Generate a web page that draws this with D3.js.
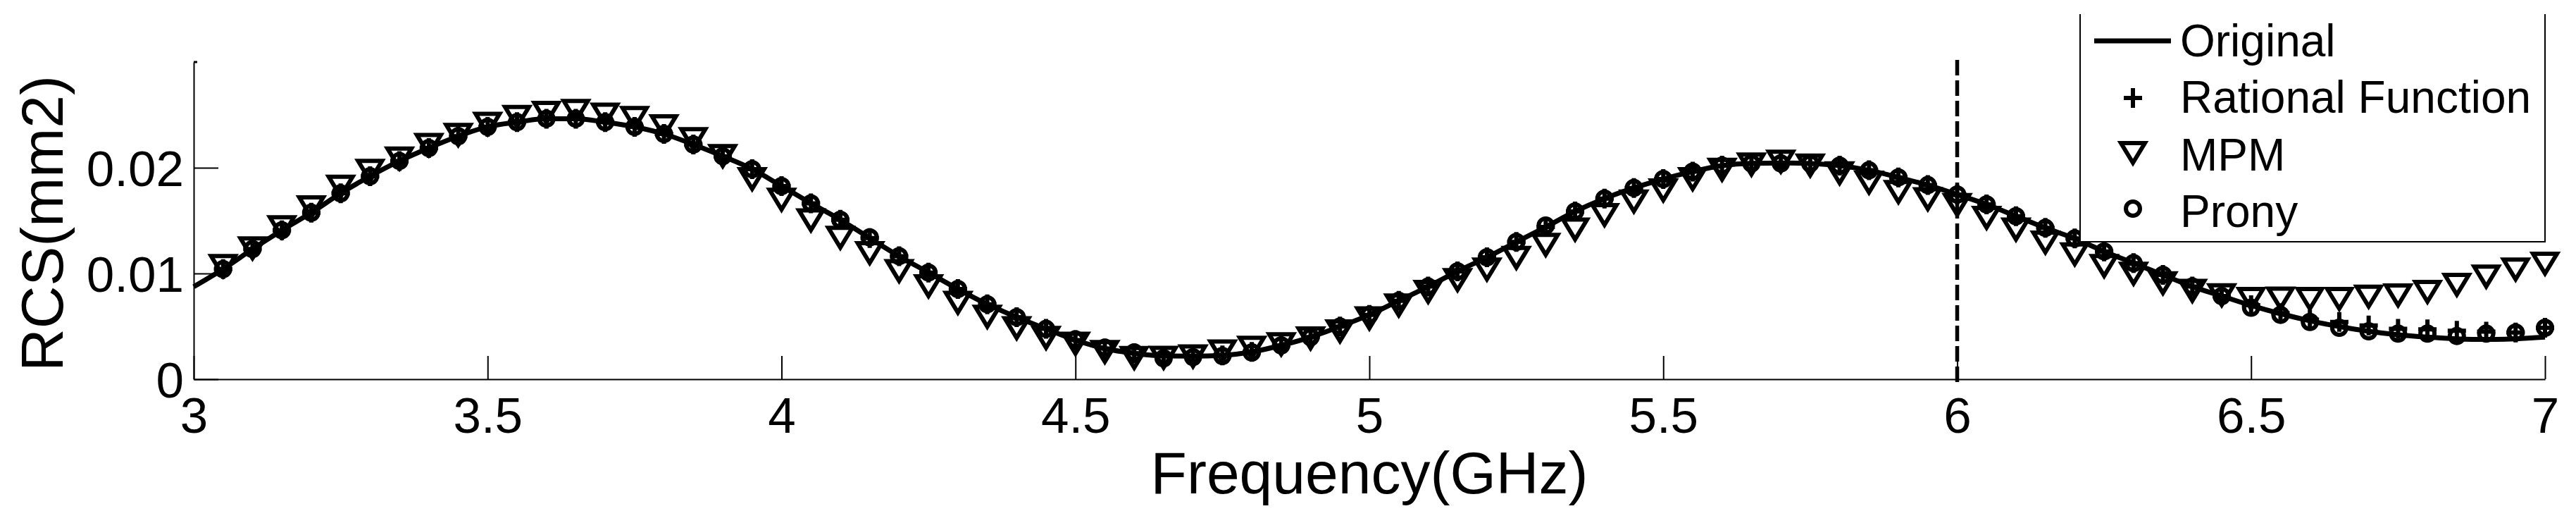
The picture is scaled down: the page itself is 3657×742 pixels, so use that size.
<!DOCTYPE html>
<html>
<head>
<meta charset="utf-8">
<script src="https://cdn.jsdelivr.net/npm/d3@7/dist/d3.min.js"></script>
<style>
  html, body { margin: 0; padding: 0; background: #fff; }
  svg { display: block; font-family: Arial, "Liberation Sans", sans-serif; }
</style>
</head>
<body>
<svg id="chart" width="3657" height="742"></svg>
<script>
// ---------------- data ----------------
const freq = [3.00,3.05,3.10,3.15,3.20,3.25,3.30,3.35,3.40,3.45,
  3.50,3.55,3.60,3.65,3.70,3.75,3.80,3.85,3.90,3.95,
  4.00,4.05,4.10,4.15,4.20,4.25,4.30,4.35,4.40,4.45,
  4.50,4.55,4.60,4.65,4.70,4.75,4.80,4.85,4.90,4.95,
  5.00,5.05,5.10,5.15,5.20,5.25,5.30,5.35,5.40,5.45,
  5.50,5.55,5.60,5.65,5.70,5.75,5.80,5.85,5.90,5.95,
  6.00,6.05,6.10,6.15,6.20,6.25,6.30,6.35,6.40,6.45,
  6.50,6.55,6.60,6.65,6.70,6.75,6.80,6.85,6.90,6.95,
  7.00];

const original = [0.00875,0.01042,0.01231,0.01409,0.01575,0.01758,0.01920,0.02064,0.02187,0.02298,
  0.02387,0.02431,0.02464,0.02464,0.02431,0.02387,0.02320,0.02220,0.02109,0.01987,
  0.01827,0.01664,0.01509,0.01335,0.01164,0.01009,0.00853,0.00709,0.00587,0.00476,
  0.00370,0.00290,0.00245,0.00220,0.00218,0.00225,0.00258,0.00320,0.00398,0.00498,
  0.00609,0.00742,0.00876,0.01020,0.01153,0.01298,0.01440,0.01587,0.01709,0.01809,
  0.01893,0.01964,0.02020,0.02042,0.02045,0.02040,0.02020,0.01976,0.01909,0.01836,
  0.01747,0.01653,0.01542,0.01431,0.01331,0.01209,0.01098,0.00987,0.00876,0.00787,
  0.00698,0.00620,0.00553,0.00498,0.00453,0.00420,0.00398,0.00382,0.00376,0.00382,
  0.00398];

// marker series sampled at 3.05 ... 7.00
const markerFreq = freq.slice(1);

const rationalFunction = [0.01042,0.01231,0.01409,0.01575,0.01758,0.01920,0.02064,0.02187,0.02298,0.02387,
  0.02431,0.02464,0.02464,0.02431,0.02387,0.02320,0.02220,0.02109,0.01987,0.01827,
  0.01664,0.01509,0.01335,0.01164,0.01009,0.00853,0.00709,0.00587,0.00476,0.00370,
  0.00290,0.00245,0.00220,0.00218,0.00225,0.00258,0.00320,0.00398,0.00498,0.00609,
  0.00742,0.00876,0.01020,0.01153,0.01298,0.01440,0.01587,0.01709,0.01809,0.01893,
  0.01964,0.02020,0.02042,0.02045,0.02040,0.02020,0.01976,0.01909,0.01836,0.01747,
  0.01653,0.01542,0.01431,0.01331,0.01209,0.01098,0.00987,0.00876,0.00787,0.00700,
  0.00625,0.00564,0.00542,0.00509,0.00476,0.00471,0.00458,0.00450,0.00442,0.00487];

const mpm = [0.01071,0.01238,0.01438,0.01627,0.01822,0.01971,0.02089,0.02216,0.02311,0.02416,
  0.02482,0.02520,0.02538,0.02504,0.02471,0.02393,0.02271,0.02111,0.01893,0.01698,
  0.01504,0.01338,0.01193,0.01024,0.00880,0.00724,0.00591,0.00484,0.00391,0.00336,
  0.00258,0.00202,0.00204,0.00216,0.00264,0.00298,0.00331,0.00387,0.00453,0.00576,
  0.00698,0.00827,0.00938,0.01038,0.01149,0.01271,0.01416,0.01553,0.01682,0.01787,
  0.01893,0.01982,0.02031,0.02058,0.02022,0.01949,0.01860,0.01771,0.01704,0.01649,
  0.01527,0.01416,0.01293,0.01182,0.01071,0.00998,0.00909,0.00836,0.00795,0.00760,
  0.00764,0.00760,0.00760,0.00782,0.00793,0.00827,0.00893,0.00971,0.01038,0.01093];

const prony = [0.01042,0.01231,0.01409,0.01575,0.01758,0.01920,0.02064,0.02187,0.02298,0.02387,
  0.02431,0.02464,0.02464,0.02431,0.02387,0.02320,0.02220,0.02109,0.01987,0.01827,
  0.01664,0.01509,0.01342,0.01164,0.01009,0.00853,0.00709,0.00587,0.00476,0.00376,
  0.00298,0.00253,0.00198,0.00209,0.00220,0.00253,0.00320,0.00398,0.00498,0.00609,
  0.00742,0.00876,0.01020,0.01153,0.01298,0.01453,0.01587,0.01709,0.01809,0.01893,
  0.01964,0.02020,0.02042,0.02042,0.02042,0.02020,0.01976,0.01909,0.01836,0.01747,
  0.01653,0.01542,0.01431,0.01331,0.01209,0.01098,0.00987,0.00876,0.00787,0.00676,
  0.00609,0.00542,0.00487,0.00453,0.00431,0.00431,0.00409,0.00431,0.00442,0.00487];

const xTicks = [3, 3.5, 4, 4.5, 5, 5.5, 6, 6.5, 7];
const xTickLabels = ["3", "3.5", "4", "4.5", "5", "5.5", "6", "6.5", "7"];
const yTicks = [0, 0.01, 0.02];
const yTickLabels = ["0", "0.01", "0.02"];
const cutoffFreq = 6;
const legendLabels = ["Original", "Rational Function", "MPM", "Prony"];
const xTitle = "Frequency(GHz)";
const yTitle = "RCS(mm2)";

// ---------------- layout ----------------
const svg = d3.select("#chart");
const x = d3.scaleLinear().domain([3, 7]).range([275, 3613]);
const y = d3.scaleLinear().domain([0, 0.03]).range([538, 88]);
const font = "Arial, 'Liberation Sans', sans-serif";

svg.append("rect").attr("width", 3657).attr("height", 742).attr("fill", "#fff");

// axes
const xAxis = d3.axisBottom(x).tickValues(xTicks)
  .tickFormat((d, i) => xTickLabels[i]).tickSizeInner(-33).tickSizeOuter(0).tickPadding(44);
const gx = svg.append("g").attr("transform", `translate(0,${y(0)})`).call(xAxis);
gx.select(".domain").attr("stroke", "#000").attr("stroke-width", 2);
gx.selectAll(".tick line").attr("stroke", "#000").attr("stroke-width", 2);
gx.selectAll(".tick text").attr("font-size", 71).attr("font-family", font)
  .attr("fill", "#000").attr("dy", "0.71em").attr("y", 26);

const yAxis = d3.axisLeft(y).tickValues(yTicks)
  .tickFormat((d, i) => yTickLabels[i]).tickSizeInner(-35).tickSizeOuter(0).tickPadding(14);
const gy = svg.append("g").attr("transform", `translate(${x(3)},0)`).call(yAxis);
gy.select(".domain").attr("stroke", "#000").attr("stroke-width", 2);
gy.selectAll(".tick line").attr("stroke", "#000").attr("stroke-width", 2);
gy.selectAll(".tick text").attr("font-size", 71).attr("font-family", font)
  .attr("fill", "#000").attr("x", -14).attr("dy", "0.36em");
// small end serif at top of y axis
svg.append("line").attr("x1", x(3)).attr("x2", x(3) + 5)
  .attr("y1", y(0.03)).attr("y2", y(0.03)).attr("stroke", "#000").attr("stroke-width", 3);

// axis titles
svg.append("text").attr("x", (x(3) + x(7)) / 2).attr("y", 700)
  .attr("text-anchor", "middle").attr("font-size", 84).attr("font-family", font)
  .attr("fill", "#000").text(xTitle);
svg.append("text").attr("transform", "translate(89,317) rotate(-90)")
  .attr("text-anchor", "middle").attr("font-size", 84).attr("font-family", font)
  .attr("fill", "#000").text(yTitle);

// original line
const line = d3.line().x(d => x(d[0])).y(d => y(d[1])).curve(d3.curveMonotoneX);
svg.append("path").datum(freq.map((f, i) => [f, original[i]]))
  .attr("d", line).attr("fill", "none").attr("stroke", "#000")
  .attr("stroke-width", 7).attr("stroke-linejoin", "round");

// markers
const triPath = "M-17,-14L17,-14L0,14Z";
const plusPath = "M-13,0L13,0M0,-14L0,14";
const mk = 6;

svg.append("g").selectAll("path").data(markerFreq.map((f, i) => [f, rationalFunction[i]]))
  .join("path").attr("d", plusPath)
  .attr("transform", d => `translate(${x(d[0])},${y(d[1])})`)
  .attr("fill", "none").attr("stroke", "#000").attr("stroke-width", mk);

svg.append("g").selectAll("path").data(markerFreq.map((f, i) => [f, mpm[i]]))
  .join("path").attr("d", triPath)
  .attr("transform", d => `translate(${x(d[0])},${y(d[1])})`)
  .attr("fill", "none").attr("stroke", "#000").attr("stroke-width", mk)
  .attr("stroke-linejoin", "miter");

svg.append("g").selectAll("circle").data(markerFreq.map((f, i) => [f, prony[i]]))
  .join("circle").attr("cx", d => x(d[0])).attr("cy", d => y(d[1])).attr("r", 10)
  .attr("fill", "none").attr("stroke", "#000").attr("stroke-width", mk);

// dashed cutoff line
svg.append("line").attr("x1", x(cutoffFreq)).attr("x2", x(cutoffFreq))
  .attr("y1", y(0.0302)).attr("y2", y(-0.0004))
  .attr("stroke", "#000").attr("stroke-width", 5.5).attr("stroke-dasharray", "22 7");

// legend
const lg = svg.append("g");
const lgL = 2953, lgR = x(7), lgT = 20, lgB = 343;
lg.append("rect").attr("x", lgL).attr("y", lgT).attr("width", lgR - lgL).attr("height", lgB - lgT)
  .attr("fill", "#fff").attr("stroke", "none");
lg.append("path").attr("d", `M${lgL},${lgT}L${lgL},${lgB}L${lgR},${lgB}L${lgR},${lgT}`)
  .attr("fill", "none").attr("stroke", "#000").attr("stroke-width", 2);
const rowBase = [80, 160, 242, 322];
const markerCx = 3028;
lg.selectAll("text").data(legendLabels).join("text")
  .attr("x", 3095).attr("y", (d, i) => rowBase[i])
  .attr("font-size", 64).attr("font-family", font).attr("fill", "#000").text(d => d);
lg.append("line").attr("x1", 2973).attr("x2", 3082).attr("y1", 58).attr("y2", 58)
  .attr("stroke", "#000").attr("stroke-width", 7);
lg.append("path").attr("d", plusPath).attr("transform", `translate(${markerCx},139)`)
  .attr("fill", "none").attr("stroke", "#000").attr("stroke-width", mk);
lg.append("path").attr("d", triPath).attr("transform", `translate(${markerCx},217)`)
  .attr("fill", "none").attr("stroke", "#000").attr("stroke-width", mk);
lg.append("circle").attr("cx", markerCx).attr("cy", 296).attr("r", 10)
  .attr("fill", "none").attr("stroke", "#000").attr("stroke-width", mk);
</script>
</body>
</html>
